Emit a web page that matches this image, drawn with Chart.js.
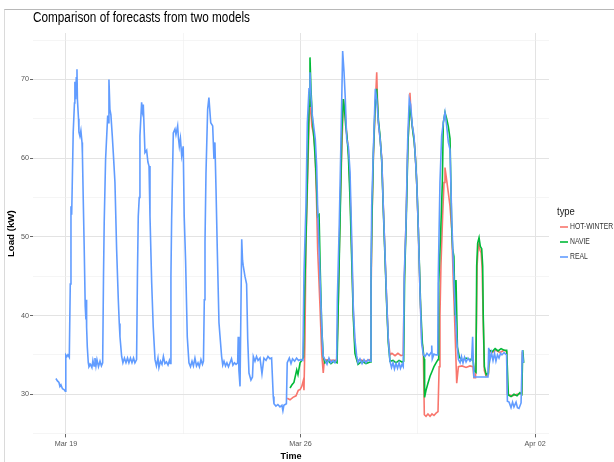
<!DOCTYPE html>
<html>
<head>
<meta charset="utf-8">
<script src="https://cdn.jsdelivr.net/npm/chart.js@4.4.1/dist/chart.umd.min.js"></script>
<style>
  body { margin: 0; background: #fff; }
  #wrap { position: relative; width: 614px; height: 462px; }
  #frame { position: absolute; left: 4px; top: 9px; right: 0; bottom: 0; border-top: 1px solid #b8b8b8; border-left: 1px solid #dadada; pointer-events: none; }
</style>
</head>
<body>
<div id="wrap">
  <canvas id="loadChart" width="614" height="462"></canvas>
  <div id="frame"></div>
</div>
<script>
// time is in hours from Mar 19 00:00
const realHours = [-7.2, -6.1, -5.0, -4.3, -3.6, -2.5, -1.4, -0.5, -0.1, 0.7, 1.4, 2.4, 3.1, 3.6, 4.1, 4.5, 5.2, 6.1, 6.4, 6.9, 7.4, 7.9, 8.2, 9.0, 9.3, 10.0, 10.7, 11.5, 11.8, 12.4, 13.1, 13.8, 14.3, 14.5, 14.8, 15.3, 16.0, 16.5, 17.6, 18.6, 19.3, 20.1, 20.8, 21.5, 22.2, 23.3, 24.4, 25.4, 26.3,
  26.9, 27.4, 28.4, 29.9, 30.3, 30.8, 31.5, 32.2, 33.2, 33.9, 35.1, 36.3, 37.5, 38.2, 38.7, 39.9, 40.8, 41.9, 43.0, 44.1, 45.1, 46.2, 47.3, 48.4, 49.4, 50.6,
  51.2, 51.8, 52.5, 53.0, 54.2, 54.8, 55.4, 56.6, 57.8, 58.7, 59.5, 60.2, 61.4, 62.5, 63.8, 64.8, 65.9, 66.6, 67.7, 68.8, 69.8, 70.9, 72.0, 73.1, 74.1, 74.7,
  75.2, 75.7, 76.9, 78.1, 78.8, 80.0, 80.6, 81.2, 82.0, 82.9, 84.0, 84.7, 85.7, 86.9, 88.1, 89.2, 90.3, 91.3, 92.4, 93.5, 94.6, 95.6, 96.7, 97.8, 98.5,
  99.1, 99.6, 100.3, 101.5, 102.4, 103.7, 105.1, 106.0, 106.7, 107.5, 108.4, 109.6, 110.3, 111.5, 112.3, 113.2, 114.3, 115.3, 116.4, 117.5, 118.6, 119.6, 120.7, 121.8, 123.0,
  123.4, 123.9, 124.7, 125.9, 126.5, 127.0, 128.2, 129.4, 130.2, 131.1, 132.5, 133.6, 134.2, 135.4, 136.5, 137.6, 139.0, 140.4, 141.8, 143.3, 144.7, 146.1, 147.3,
  148.5, 149.0, 150.4, 151.8, 153.3, 154.7, 155.4, 156.1, 157.9, 158.5, 160.0, 161.2, 162.3, 163.8, 165.2, 166.6, 168.0, 169.7,
  170.5, 171.9, 172.9, 174.1, 174.8, 175.5, 176.5, 177.7, 178.6, 179.6, 180.3, 181.5, 182.7, 183.6, 184.3, 185.5, 187.0, 188.4, 189.8, 191.3, 192.7, 193.9,
  194.4, 195.8, 197.0, 198.2, 199.2, 200.1, 201.1, 202.3, 203.5, 204.7, 205.8, 207.0, 208.2, 209.2, 210.6, 212.1, 213.5, 214.9, 216.4, 217.8,
  218.5, 219.0, 220.2, 221.6, 222.6, 223.8, 225.0, 226.2, 227.3, 228.5, 229.7, 230.9, 232.1, 233.2, 234.3, 235.3, 236.4, 237.5, 238.6, 239.6, 240.7, 241.6,
  242.3, 243.6, 244.8, 245.9, 246.9, 248.1, 249.3, 250.2, 251.2, 252.4, 253.6, 254.8, 256.0, 257.2, 258.6, 260.1, 261.5, 262.0, 262.4, 263.6, 265.1, 266.3,
  266.7, 267.9, 269.1, 270.3, 271.5, 272.7, 273.9, 275.1, 276.3, 277.5, 278.7, 279.9, 281.1, 282.3, 283.3, 284.4, 285.5, 286.6, 288.0, 289.4, 290.6,
  291.3, 291.9, 292.2, 293.7, 296.6, 299.4, 302.3, 302.8, 303.8, 304.8, 305.9, 307.0, 308.0, 309.1, 310.2, 311.3, 312.3, 313.8, 315.6,
  316.2, 317.4, 318.8, 319.9, 320.9, 322.4, 323.4, 324.5, 326.0, 326.9, 327.6];
const realLoad = [32.0, 31.7, 31.5, 31.0, 31.2, 30.7, 30.6, 30.4, 35.0, 34.8, 35.0, 34.7, 44.0, 53.9, 52.8, 56.5, 63.3, 67.0, 69.7, 67.5, 70.2, 71.3, 67.5, 65.0, 63.3, 62.8, 63.5, 62.0, 60.5, 54.7, 48.4, 41.2, 39.5, 42.0, 38.5, 36.0, 34.0, 33.5, 33.8, 33.4, 34.3, 33.6, 34.6, 33.6, 34.4, 33.5, 34.2, 33.6, 34.0,
  45.0, 51.8, 59.9, 65.4, 64.5, 70.0, 66.2, 65.5, 62.8, 60.7, 56.9, 48.4, 42.0, 39.0, 37.3, 34.8, 34.0, 34.6, 34.0, 34.6, 34.0, 34.6, 34.0, 34.6, 34.0, 34.4,
  45.0, 52.6, 55.0, 62.8, 67.1, 66.0, 66.8, 60.7, 61.0, 59.5, 59.0, 52.6, 44.2, 38.6, 34.4, 33.6, 34.6, 33.4, 34.2, 33.8, 34.8, 33.9, 34.1, 33.7, 34.3, 33.9,
  45.0, 52.2, 63.2, 63.7, 63.0, 64.1, 62.5, 61.5, 62.5, 60.3, 61.5, 52.6, 47.0, 37.3, 34.0, 33.5, 34.2, 33.6, 34.6, 33.6, 34.0, 33.5, 34.4, 33.8, 34.2,
  42.0, 49.3, 58.0, 66.2, 67.7, 64.5, 64.1, 59.9, 62.0, 56.0, 48.4, 39.1, 37.5, 34.8, 33.7, 34.2, 33.6, 34.0, 33.5, 34.0, 34.5, 33.7, 34.0, 33.8, 34.0,
  37.3, 33.0, 31.0, 49.7, 47.0, 46.3, 45.0, 44.0, 37.0, 32.7, 31.8, 32.2, 34.8, 34.2, 34.8, 34.3, 34.6, 32.6, 34.6, 34.3, 34.8, 34.5, 34.6,
  29.7, 28.8, 28.5, 28.7, 28.4, 28.6, 27.9, 28.6, 28.8, 34.0, 34.6, 33.9, 34.5, 34.2, 34.6, 34.3, 34.4, 34.3,
  45.4, 53.9, 64.5, 68.8, 70.9, 67.9, 65.4, 63.7, 62.4, 59.0, 53.5, 47.5, 41.2, 36.9, 34.8, 34.4, 33.8, 34.6, 34.0, 34.3, 34.0, 34.4,
  42.0, 51.8, 62.4, 73.6, 70.9, 67.5, 62.4, 61.5, 58.2, 49.7, 41.2, 36.9, 34.9, 34.0, 34.5, 33.9, 34.4, 34.0, 34.4, 34.2,
  45.0, 53.9, 61.1, 68.8, 67.5, 64.5, 62.5, 59.9, 53.9, 48.0, 42.0, 37.0, 34.2, 33.4, 34.0, 33.2, 33.9, 33.3, 34.0, 33.3, 33.8, 33.5,
  45.0, 51.8, 62.4, 67.5, 66.8, 64.1, 62.8, 60.3, 57.2, 51.0, 43.0, 36.5, 35.0, 34.8, 35.2, 34.9, 35.3, 36.2, 34.5, 35.1, 35.0, 35.0,
  45.0, 56.9, 62.8, 64.5, 65.8, 64.1, 62.0, 61.1, 52.6, 46.3, 41.2, 36.9, 34.4, 34.0, 34.8, 34.0, 34.7, 34.1, 34.6, 34.2, 34.4,
  37.3, 33.5, 32.2, 32.2, 32.2, 32.2, 32.2, 35.9, 34.4, 35.3, 34.3, 35.2, 34.2, 35.0, 34.6, 35.2, 35.0, 35.3, 35.0,
  29.1, 29.0, 28.3, 29.0, 28.4, 29.0, 28.3, 28.2, 28.9, 35.6, 34.0];

const hwHours = [158.5, 160.5, 162.6, 164.8, 166.4, 167.7, 168.9, 170.1, 170.5, 171.2, 171.9, 172.9, 174.1, 175.1, 176.1, 177.2, 178.4, 179.6, 180.3, 182.0, 183.2, 184.3, 185.1, 189.1, 193.9,
  194.9, 196.3, 197.6, 198.7, 199.9, 201.1, 202.3, 203.5, 204.7, 205.8, 207.0, 208.4, 210.6, 214.2, 217.8,
  218.5, 219.2, 220.2, 221.4, 222.6, 223.2, 223.8, 225.0, 226.2, 227.3, 228.5, 229.7, 230.9, 232.1, 233.5, 235.7, 237.8, 240.0, 241.6,
  242.3, 243.6, 244.8, 245.9, 246.4, 247.2, 248.1, 249.3, 250.2, 251.2, 252.4, 253.6, 254.8, 256.0, 256.7, 257.9, 259.3, 260.8, 262.2, 263.6, 265.1, 266.5,
  267.3, 267.9, 268.6, 269.8, 270.8, 271.5, 272.7, 273.9, 275.1, 276.3, 277.5, 278.7, 279.9, 281.1, 283.7, 286.6, 289.4, 291.5,
  292.2, 293.4, 294.1, 294.5, 295.2, 295.9, 296.6, 297.4, 298.1, 298.8, 299.7, 301.0, 302.6, 303.3, 305.2, 308.0, 310.9, 313.8, 315.7,
  316.2, 319.5, 323.1, 326.5, 326.9, 327.6];
const hwLoad = [29.5, 29.3, 29.6, 29.8, 30.5, 30.6, 31.0, 31.8, 30.5, 36.9, 49.0, 56.0, 64.5, 67.5, 64.1, 63.2, 61.1, 53.9, 48.4, 41.0, 35.2, 32.7, 34.4, 34.3, 34.3,
  40.0, 53.0, 61.0, 67.5, 66.0, 63.0, 61.0, 56.0, 48.0, 40.5, 36.0, 34.3, 34.4, 34.2, 34.4,
  42.0, 52.0, 60.0, 66.0, 70.9, 67.0, 64.5, 62.5, 60.0, 54.0, 48.0, 42.0, 37.0, 35.0, 35.2, 34.9, 35.2, 34.9, 35.0,
  44.0, 52.0, 61.0, 66.0, 68.3, 65.5, 64.0, 62.5, 60.5, 57.0, 51.0, 43.0, 37.0, 35.2, 27.4, 27.2, 27.5, 27.2, 27.5, 27.3, 27.6, 27.8,
  33.5, 40.0, 46.3, 52.6, 56.9, 58.8, 57.2, 55.6, 53.9, 51.0, 44.1, 38.0, 31.4, 33.5, 33.6, 33.4, 33.6, 33.5,
  32.1, 32.1, 40.0, 46.3, 48.5, 49.2, 48.3, 48.0, 46.0, 40.0, 33.0, 32.3, 32.5, 35.5, 35.3, 35.6, 35.3, 35.6, 35.4,
  30.0, 29.8, 30.0, 30.1, 35.4, 34.0];

const navieHours = [160.5, 161.9, 163.3, 165.3, 166.2, 167.7, 168.9, 170.1, 170.8, 171.9, 172.9, 174.1, 174.8, 175.5, 176.5, 177.7, 179.1, 180.3, 181.3, 182.2, 183.2, 184.3, 185.5, 187.7, 189.8, 192.0, 194.2,
  195.0, 196.3, 197.6, 198.7, 199.4, 200.4, 201.3, 202.3, 203.5, 204.7, 205.8, 207.0, 209.2, 212.1, 214.9, 217.8,
  218.5, 219.2, 220.2, 221.4, 222.6, 223.8, 225.0, 226.2, 227.3, 228.5, 229.7, 230.9, 232.1, 234.3, 236.4, 238.6, 240.7, 241.9,
  242.6, 243.8, 245.0, 246.2, 247.2, 248.4, 249.5, 250.7, 251.7, 252.9, 254.1, 255.3, 256.5, 256.9, 257.9, 259.3, 260.8, 262.2, 263.6, 265.1, 266.5,
  267.0, 268.4, 269.6, 270.3, 271.5, 272.7, 273.9, 275.1, 276.3, 277.0, 277.9, 278.7, 279.4, 280.4, 281.8, 283.7, 286.6, 289.4, 291.5,
  292.4, 293.7, 294.2, 294.9, 295.9, 296.8, 297.8, 298.5, 298.9, 299.7, 301.0, 302.6, 303.3, 305.2, 307.4, 309.5, 311.7, 313.8, 315.7,
  316.9, 318.8, 320.9, 323.1, 325.2, 326.5, 327.2, 327.9];
const navieLoad = [30.8, 31.2, 31.5, 33.1, 32.5, 34.0, 34.3, 34.7, 41.2, 49.7, 57.2, 66.6, 72.8, 68.8, 65.0, 62.4, 58.2, 52.6, 52.8, 45.4, 38.6, 34.8, 34.0, 34.3, 33.9, 34.2, 34.0,
  41.0, 51.5, 63.2, 67.5, 66.5, 64.1, 62.8, 60.3, 54.7, 47.0, 39.9, 35.2, 33.8, 34.2, 33.9, 34.1,
  44.0, 52.5, 60.5, 66.5, 68.8, 64.8, 62.8, 59.5, 53.5, 47.5, 41.5, 36.5, 34.2, 34.3, 34.0, 34.3, 34.1, 34.2,
  45.0, 52.5, 62.0, 66.5, 65.5, 63.5, 62.0, 59.0, 55.0, 48.0, 41.0, 36.5, 34.5, 29.6, 30.5, 31.4, 32.3, 32.9, 33.5, 34.0, 34.4,
  44.1, 50.5, 56.9, 64.5, 65.8, 65.0, 64.0, 62.5, 51.3, 48.4, 47.5, 40.0, 44.5, 36.0, 34.7, 34.3, 34.6, 34.4, 34.5,
  33.0, 32.8, 46.3, 49.2, 49.9, 48.8, 48.5, 46.3, 40.0, 33.5, 32.5, 32.7, 35.6, 35.4, 35.8, 35.5, 35.8, 35.6, 35.6,
  29.9, 29.7, 30.0, 29.8, 30.2, 30.0, 35.6, 34.0];

const seriesNames = ['HOT-WINTER', 'NAVIE', 'REAL'];
const seriesColors = ['#F8766D', '#00BA38', '#619CFF'];

const xGridHours = [0, 84, 168, 252, 336];
const xTickLabels = ['Mar 19', '', 'Mar 26', '', 'Apr 02'];
const yGridValues = [25, 30, 35, 40, 45, 50, 55, 60, 65, 70, 75];
const yTickValues = [30, 40, 50, 60, 70];

const FONT = "'Liberation Sans', Arial, sans-serif";

function points(hours, load) {
    return hours.map((h, i) => ({ x: h, y: load[i] }));
}

// narrow text: the original picture is squeezed sideways
function narrowText(ctx, text, x, y, squeeze) {
    ctx.save();
    ctx.translate(x, y);
    ctx.scale(squeeze, 1);
    ctx.fillText(text, 0, 0);
    ctx.restore();
}

// title and "type" legend drawn by hand, ggplot style
const decorPlugin = {
    id: 'decor',
    afterDraw(chart) {
        const ctx = chart.ctx;
        ctx.save();
        ctx.textBaseline = 'middle';
        ctx.fillStyle = '#000';
        ctx.font = '14px ' + FONT;
        narrowText(ctx, 'Comparison of forecasts from two models', 33, 18, 0.84);

        ctx.font = '11px ' + FONT;
        ctx.fillStyle = '#1a1a1a';
        narrowText(ctx, 'type', 557, 212, 0.86);
        seriesNames.forEach((name, i) => {
            const y = 227 + i * 15;
            ctx.strokeStyle = seriesColors[i];
            ctx.lineWidth = 1.6;
            ctx.beginPath();
            ctx.moveTo(560, y);
            ctx.lineTo(568, y);
            ctx.stroke();
            ctx.font = '8.3px ' + FONT;
            ctx.fillStyle = '#333';
            narrowText(ctx, name, 570, y, 0.82);
        });
        ctx.restore();
    }
};

const ctx = document.getElementById('loadChart').getContext('2d');
new Chart(ctx, {
    type: 'line',
    data: {
        datasets: [
            { label: 'HOT-WINTER', data: points(hwHours, hwLoad), borderColor: seriesColors[0], order: 3 },
            { label: 'NAVIE', data: points(navieHours, navieLoad), borderColor: seriesColors[1], order: 2 },
            { label: 'REAL', data: points(realHours, realLoad), borderColor: seriesColors[2], order: 1 }
        ]
    },
    options: {
        responsive: false,
        animation: false,
        datasets: { line: { borderWidth: 1.6, pointRadius: 0, tension: 0, fill: false } },
        layout: { padding: { top: 33, right: 65, bottom: 0, left: 0 } },
        plugins: { legend: { display: false }, tooltip: { enabled: false } },
        scales: {
            x: {
                type: 'linear',
                min: -23.6,
                max: 346,
                afterBuildTicks: scale => { scale.ticks = xGridHours.map(v => ({ value: v })); },
                afterFit: scale => { scale.height = 27.6; },
                border: { display: false },
                grid: {
                    color: c => (xTickLabels[c.index] ? '#e3e3e3' : '#eeeeee'),
                    lineWidth: c => (xTickLabels[c.index] ? 1 : 0.6),
                    tickLength: 3,
                    tickColor: c => (xTickLabels[c.index] ? '#666' : 'rgba(0,0,0,0)')
                },
                ticks: {
                    autoSkip: false,
                    maxRotation: 0,
                    padding: 2.6,
                    color: '#555',
                    font: { family: FONT, size: 7.2 },
                    callback: (v, i) => xTickLabels[i]
                },
                title: { display: true, text: 'Time', color: '#000', padding: 0, font: { family: FONT, size: 9, weight: 'bold' } }
            },
            y: {
                min: 24.9,
                max: 75.9,
                afterBuildTicks: scale => { scale.ticks = yGridValues.map(v => ({ value: v })); },
                afterFit: scale => { scale.width = 33; },
                border: { display: false },
                grid: {
                    color: c => (yTickValues.includes(c.tick.value) ? '#e3e3e3' : '#eeeeee'),
                    lineWidth: c => (yTickValues.includes(c.tick.value) ? 1 : 0.6),
                    tickLength: 3,
                    tickColor: c => (yTickValues.includes(c.tick.value) ? '#666' : 'rgba(0,0,0,0)')
                },
                ticks: {
                    padding: 1,
                    color: '#555',
                    font: { family: FONT, size: 7.2 },
                    callback: v => (yTickValues.includes(v) ? String(v) : '')
                },
                title: { display: true, text: 'Load (kW)', color: '#000', padding: { top: 6 }, font: { family: FONT, size: 9.7, weight: 'bold' } }
            }
        }
    },
    plugins: [decorPlugin]
});
</script>
</body>
</html>
